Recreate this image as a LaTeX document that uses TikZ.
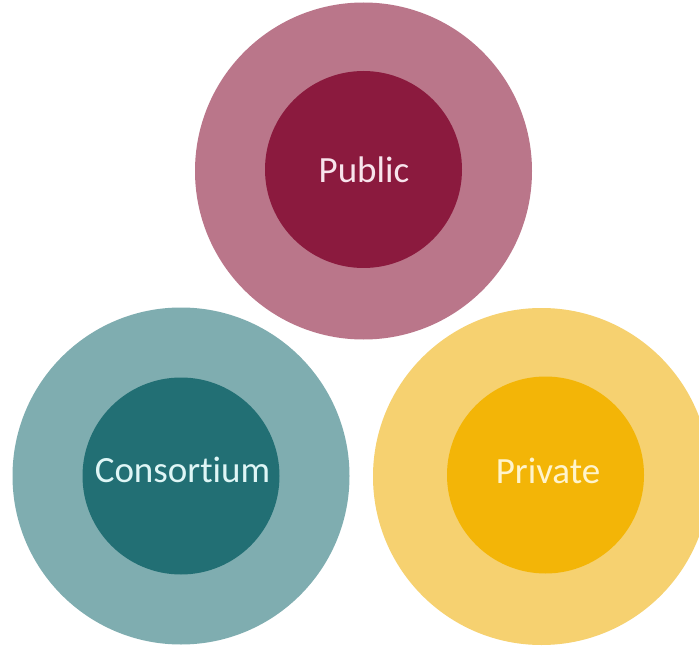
\documentclass[tikz,border=0pt]{standalone}
\usepackage{fontspec}
\setmainfont[Ligatures=NoCommon]{Carlito}
\definecolor{pubout}{HTML}{BA768A}
\definecolor{pubin}{HTML}{8B1A3E}
\definecolor{pubtxt}{HTML}{F8E4EC}
\definecolor{conout}{HTML}{7FADB0}
\definecolor{conin}{HTML}{226F74}
\definecolor{contxt}{HTML}{DFF6F6}
\definecolor{priout}{HTML}{F6D170}
\definecolor{priin}{HTML}{F3B507}
\definecolor{pritxt}{HTML}{FFF4CC}
\begin{document}
\begin{tikzpicture}[x=1pt,y=-1pt,
  outerring/.style={circle,inner sep=0pt,minimum size=337pt,draw=none},
  innerdisc/.style={circle,inner sep=0pt,minimum size=197pt,draw=none},
  lbl/.style={font=\fontsize{37}{40}\selectfont,anchor=base,inner sep=0pt}]
\useasboundingbox (0,0) rectangle (699,647);
\fill[white] (0,0) rectangle (699,647);
% top
\node[outerring,fill=pubout] (pubO) at (363.5,171) {};
\node[innerdisc,fill=pubin] (pubI) at (363.5,169.5) {};
\node[lbl,text=pubtxt] (pubT) at (364,183) {Public};
% bottom left
\node[outerring,fill=conout] (conO) at (181,476) {};
\node[innerdisc,fill=conin] (conI) at (181,476) {};
\node[lbl,text=contxt] (conT) at (182.5,482) {Consortium};
% bottom right
\node[outerring,fill=priout] (priO) at (541.5,476.5) {};
\node[innerdisc,fill=priin] (priI) at (545.5,475) {};
\node[lbl,text=pritxt] (priT) at (548,483) {Private};
\end{tikzpicture}
\end{document}
